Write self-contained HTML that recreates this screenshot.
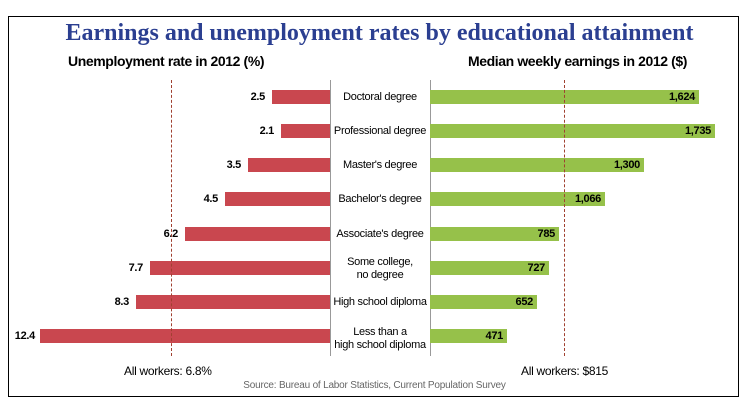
<!DOCTYPE html>
<html><head><style>
body{margin:0;background:#fff;width:749px;height:403px;position:relative;font-family:"Liberation Sans",sans-serif;overflow:hidden}
.a{position:absolute}
.bx{left:8px;top:16px;width:729px;height:379px;border:1px solid #000}
.t{left:0;width:749px;top:20px;text-align:center;font-family:"Liberation Serif",serif;font-weight:bold;font-size:24px;color:#2b3f91;letter-spacing:0px;padding-left:10px;box-sizing:border-box}
.h{font-size:14px;font-weight:bold;top:53px;letter-spacing:-0.4px}
.r{height:14px;background:#c9474f}
.g{height:14px;background:#96c14a}
.v{font-size:11px;font-weight:bold;line-height:14px;letter-spacing:-0.3px;text-align:right;width:30px}
.c{left:330px;width:100px;text-align:center;font-size:11px;line-height:13px;letter-spacing:-0.3px}
.vl{width:1px;background:#999;top:80px;height:276px}
.dl{width:0;border-left:1px dashed #a04030;top:80px;height:276px}
</style></head><body>
<div class="a bx"></div>
<div class="a t">Earnings and unemployment rates by educational attainment</div>
<div class="a h" style="left:68px">Unemployment rate in 2012 (%)</div>
<div class="a h" style="left:468px">Median weekly earnings in 2012 ($)</div>
<div class="a vl" style="left:330px"></div>
<div class="a vl" style="left:430px"></div>

<div class="a r" style="left:272px;top:90px;width:58px"></div><div class="a v" style="left:235px;top:90px">2.5</div>
<div class="a r" style="left:281px;top:124px;width:49px"></div><div class="a v" style="left:244px;top:124px">2.1</div>
<div class="a r" style="left:248px;top:158px;width:82px"></div><div class="a v" style="left:211px;top:158px">3.5</div>
<div class="a r" style="left:225px;top:192px;width:105px"></div><div class="a v" style="left:188px;top:192px">4.5</div>
<div class="a r" style="left:185px;top:227px;width:145px"></div><div class="a v" style="left:148px;top:227px">6.2</div>
<div class="a r" style="left:150px;top:261px;width:180px"></div><div class="a v" style="left:113px;top:261px">7.7</div>
<div class="a r" style="left:136px;top:295px;width:194px"></div><div class="a v" style="left:99px;top:295px">8.3</div>
<div class="a r" style="left:40px;top:329px;width:290px"></div><div class="a v" style="left:5px;top:329px">12.4</div>

<div class="a g" style="left:430px;top:90px;width:269px"></div><div class="a v" style="left:430px;width:265px;top:90px">1,624</div>
<div class="a g" style="left:430px;top:124px;width:285px"></div><div class="a v" style="left:430px;width:281px;top:124px">1,735</div>
<div class="a g" style="left:430px;top:158px;width:214px"></div><div class="a v" style="left:430px;width:210px;top:158px">1,300</div>
<div class="a g" style="left:430px;top:192px;width:175px"></div><div class="a v" style="left:430px;width:171px;top:192px">1,066</div>
<div class="a g" style="left:430px;top:227px;width:129px"></div><div class="a v" style="left:430px;width:125px;top:227px">785</div>
<div class="a g" style="left:430px;top:261px;width:119px"></div><div class="a v" style="left:430px;width:115px;top:261px">727</div>
<div class="a g" style="left:430px;top:295px;width:107px"></div><div class="a v" style="left:430px;width:103px;top:295px">652</div>
<div class="a g" style="left:430px;top:329px;width:77px"></div><div class="a v" style="left:430px;width:73px;top:329px">471</div>

<div class="a dl" style="left:171px"></div>
<div class="a dl" style="left:564px"></div>

<div class="a c" style="top:91px">Doctoral degree</div>
<div class="a c" style="top:125px">Professional degree</div>
<div class="a c" style="top:159px">Master's degree</div>
<div class="a c" style="top:193px">Bachelor's degree</div>
<div class="a c" style="top:228px">Associate's degree</div>
<div class="a c" style="top:256px">Some college,<br>no degree</div>
<div class="a c" style="top:296px">High school diploma</div>
<div class="a c" style="top:326px">Less than a<br>high school diploma</div>

<div class="a" style="left:124px;top:364px;font-size:12px;letter-spacing:-0.3px">All workers: 6.8%</div>
<div class="a" style="left:521px;top:364px;font-size:12px;letter-spacing:-0.3px">All workers: $815</div>
<div class="a" style="left:0;width:749px;text-align:center;top:380px;font-size:10px;color:#666;letter-spacing:-0.2px">Source: Bureau of Labor Statistics, Current Population Survey</div>
</body></html>
